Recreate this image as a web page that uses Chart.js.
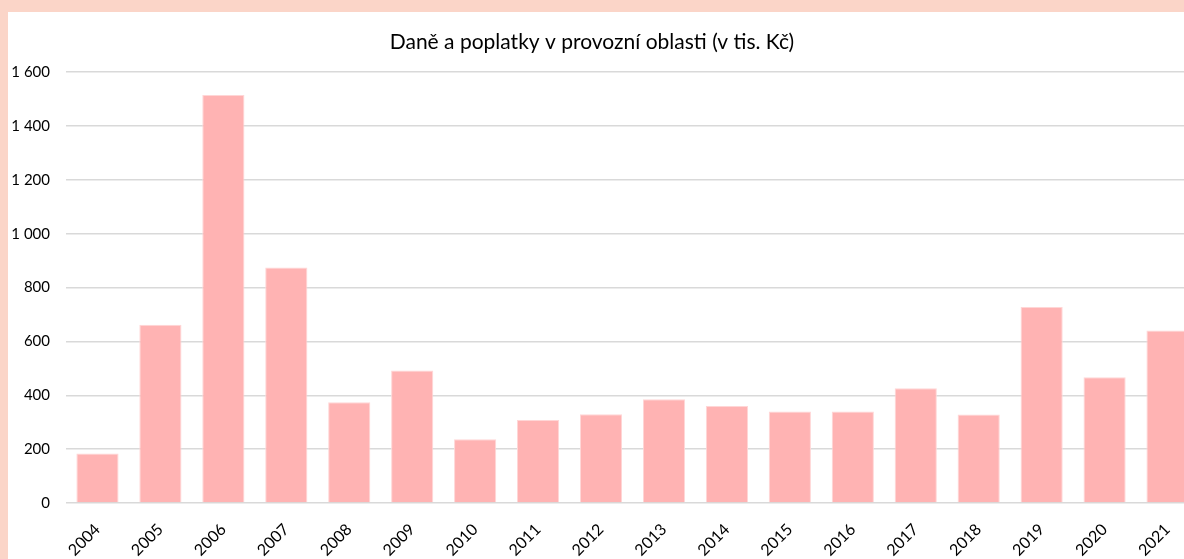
<!DOCTYPE html>
<html>
<head>
<meta charset="utf-8">
<script src="https://cdn.jsdelivr.net/npm/chart.js@4.4.0/dist/chart.umd.min.js"></script>
<style>
  html, body { margin: 0; padding: 0; }
  body { width: 1184px; height: 559px; overflow: hidden; background: #fbd5c8; position: relative; }
  #paper { position: absolute; left: 8px; top: 12px; right: 0; bottom: 0; background: #fff; }
  #wrap { position: absolute; left: -15px; top: 12px; width: 1214px; height: 547px; }
</style>
</head>
<body>
<div id="paper"></div>
<div id="wrap"><canvas id="chart"></canvas></div>
<script>
const years = ['2004', '2005', '2006', '2007', '2008', '2009', '2010', '2011', '2012',
               '2013', '2014', '2015', '2016', '2017', '2018', '2019', '2020', '2021'];
const taxes = [184, 662, 1515, 875, 374, 492, 237, 308, 330,
               385, 360, 340, 340, 426, 329, 728, 467, 641];
const yTicks = [0, 200, 400, 600, 800, 1000, 1200, 1400, 1600];

const title = 'Daně a poplatky v provozní oblasti (v tis. Kč)';
const font = 'Lato';

function spaced(v) {
  return String(v).replace(/\B(?=(\d{3})+(?!\d))/g, ' ');
}

const ctx = document.getElementById('chart').getContext('2d');
new Chart(ctx, {
  type: 'bar',
  data: {
    labels: years,
    datasets: [{
      data: taxes,
      backgroundColor: '#ffb3b3',
      borderColor: '#ffd6d6',
      borderWidth: 1,
      categoryPercentage: 1,
      barPercentage: 0.67
    }]
  },
  options: {
    responsive: true,
    maintainAspectRatio: false,
    animation: false,
    layout: { padding: 0 },
    plugins: {
      legend: { display: false },
      tooltip: { enabled: false },
      title: {
        display: true,
        text: title,
        color: '#000',
        font: { family: font, size: 21, weight: 'normal' },
        padding: { top: 18, bottom: 17 }
      }
    },
    scales: {
      x: {
        grid: { display: false },
        border: { display: false },
        ticks: {
          color: '#000',
          font: { family: font, size: 16 },
          minRotation: 45,
          maxRotation: 45,
          autoSkip: false,
          padding: 9
        },
        afterFit: s => { s.height = 56; }
      },
      y: {
        min: 0,
        max: 1600,
        afterBuildTicks: s => { s.ticks = yTicks.map(v => ({ value: v })); },
        grid: { color: '#d9d9d9', lineWidth: 1.5, drawTicks: false },
        border: { display: false },
        ticks: {
          color: '#000',
          font: { family: font, size: 15 },
          padding: 16,
          callback: v => spaced(v)
        },
        afterFit: s => { s.width = 81; }
      }
    }
  }
});
</script>
</body>
</html>
